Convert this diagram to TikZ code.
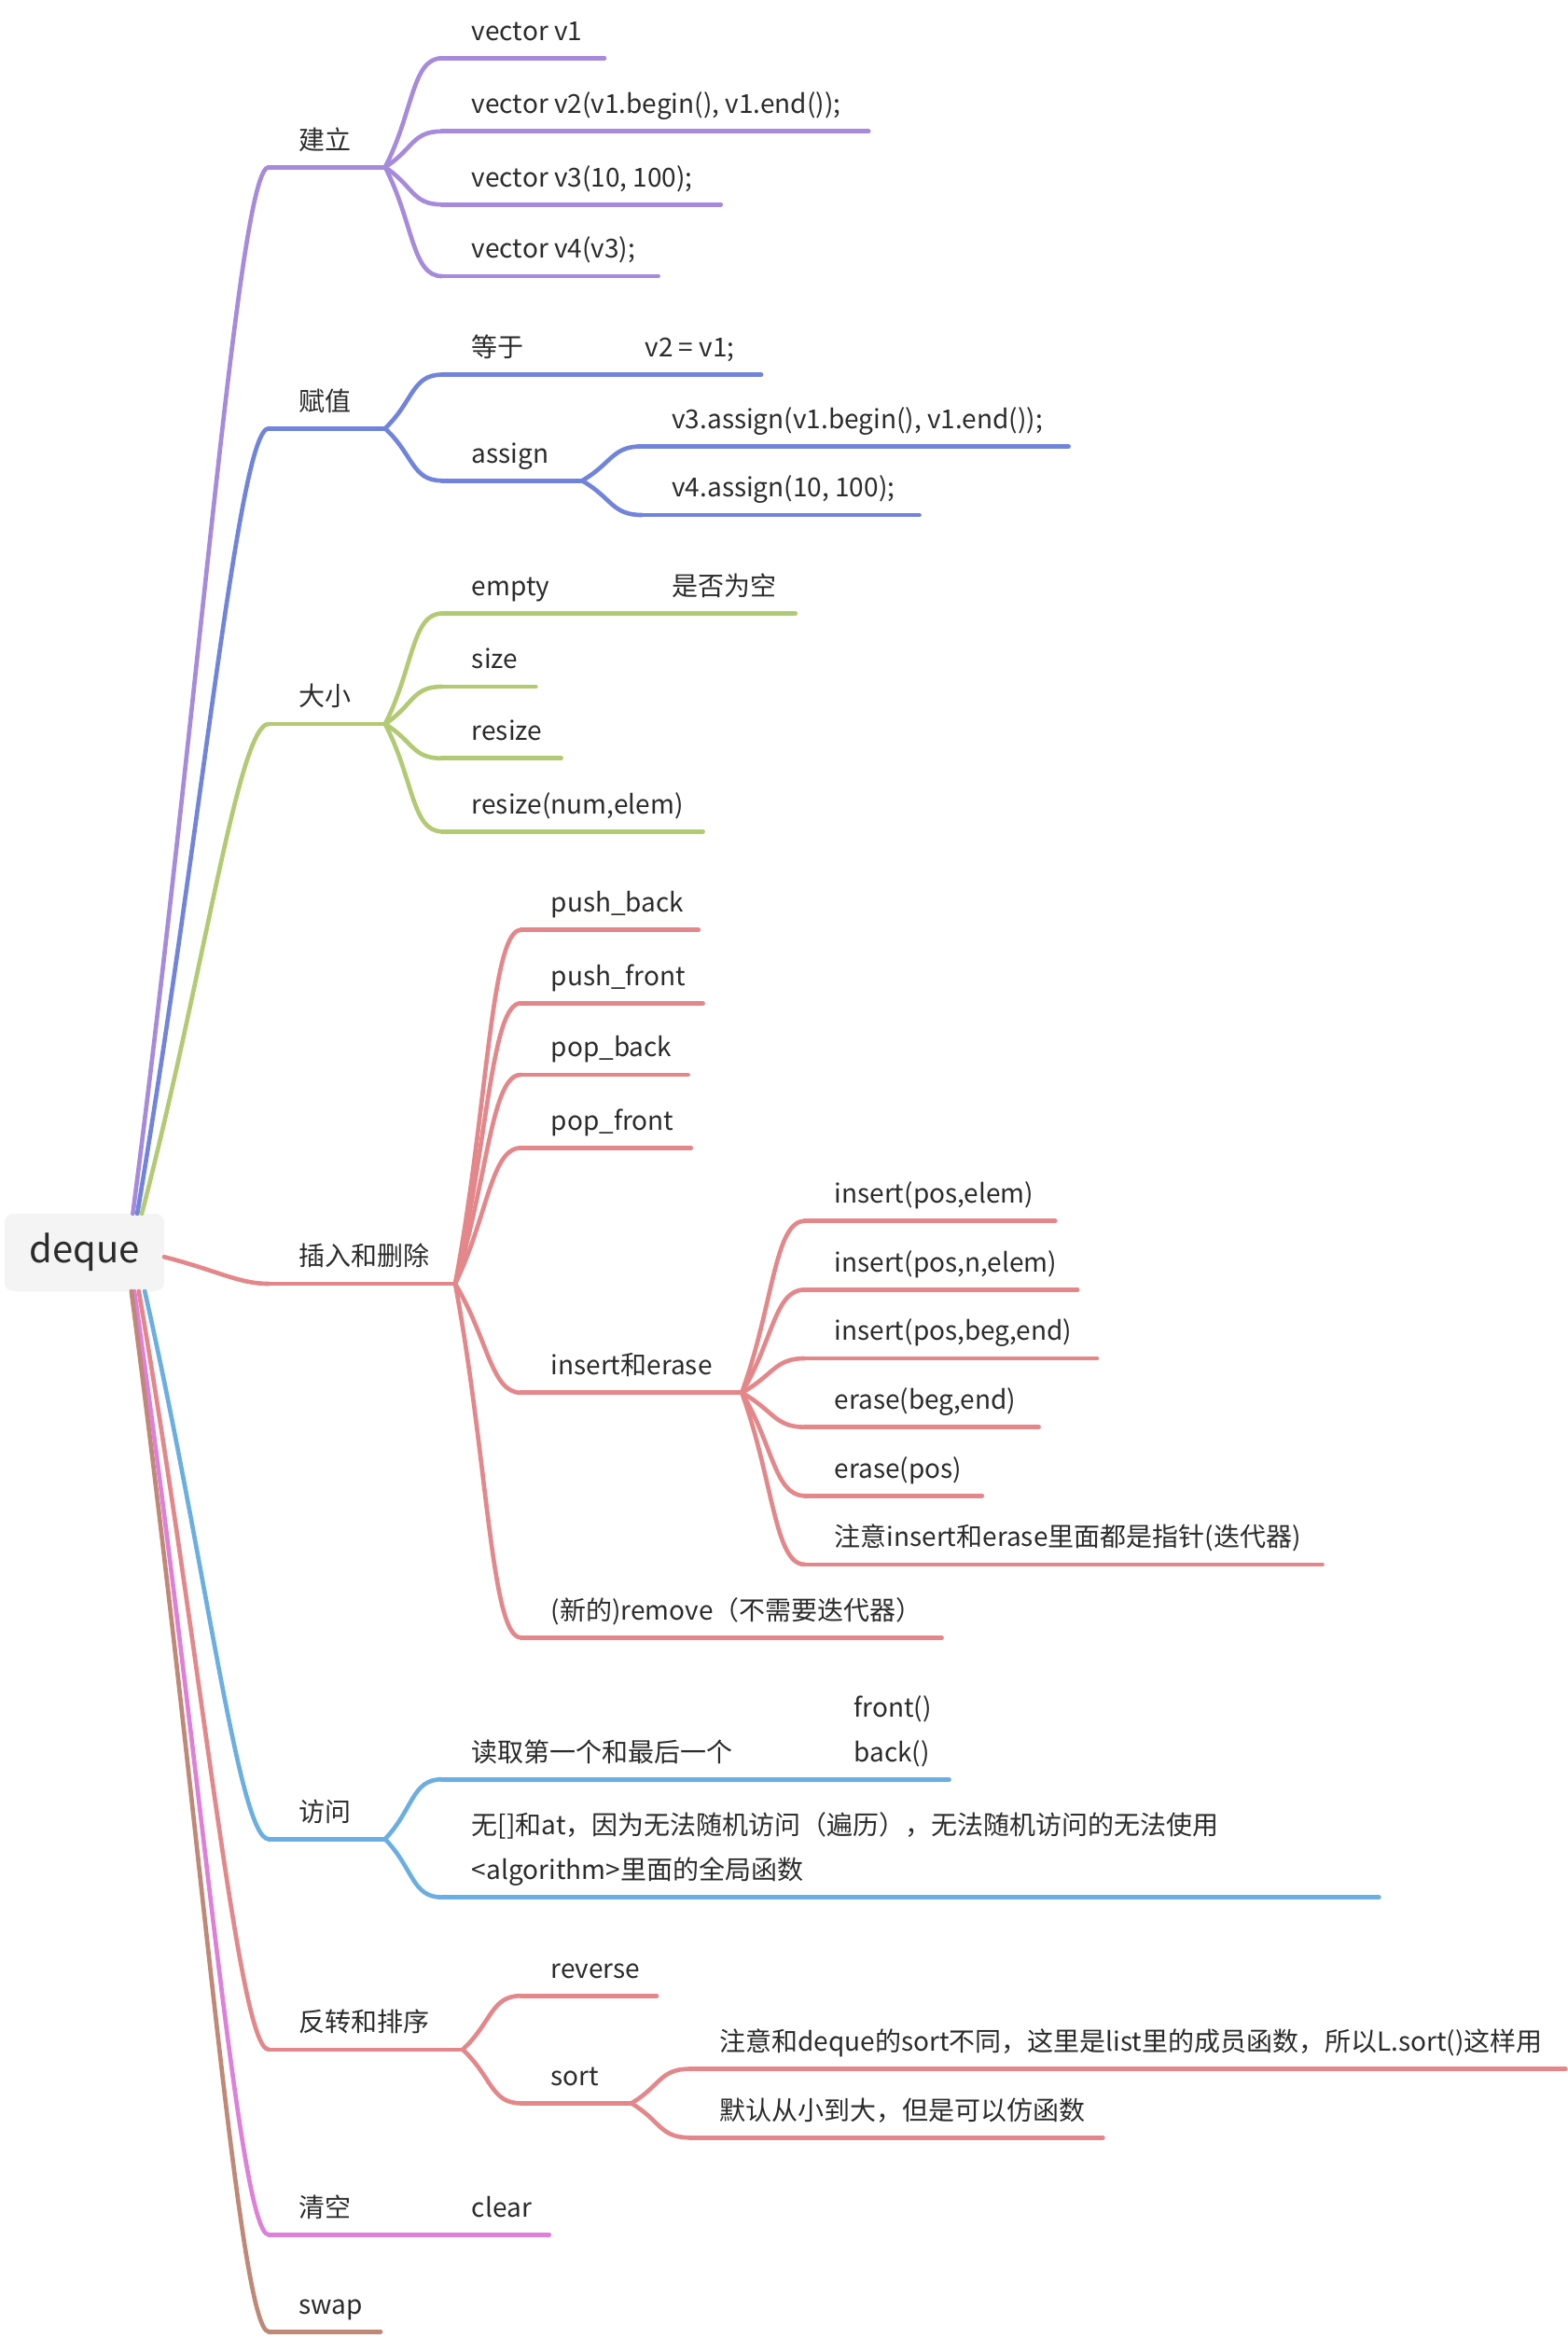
\documentclass[tikz,border=0pt]{standalone}
\usepackage{fontspec}
\setmainfont{Noto Sans CJK SC}
\usetikzlibrary{calc}
\definecolor{cPur}{HTML}{A68ADB}
\definecolor{cBlu}{HTML}{7184DB}
\definecolor{cGrn}{HTML}{B2CA73}
\definecolor{cRed}{HTML}{E3878A}
\definecolor{cSky}{HTML}{6BAFE2}
\definecolor{cPnk}{HTML}{DE80D9}
\definecolor{cBrn}{HTML}{BF8877}
\definecolor{txt}{HTML}{2B2B2B}
\definecolor{rootbg}{HTML}{F4F4F4}
\begin{document}
\begin{tikzpicture}[x=1pt,y=-1pt,
            ln/.style={draw=#1,line width=2.9pt,line cap=round},
            lnk/.style={ln=#1,to path={.. controls ($(\tikztostart)!.5!(\tikztotarget)$) and ($(\tikztotarget)+(-20,0)$) .. (\tikztotarget)}},
            lbl/.style={anchor=base west,inner sep=0pt,text=txt,font=\fontsize{17.5}{30}\selectfont,align=left},
            root/.style={fill=rootbg,rounded corners=6pt,minimum width=107pt,minimum height=52pt,text=txt,font=\fontsize{25}{30}\selectfont},
        ]
    \useasboundingbox (0,0) rectangle (1050,1566.25);
    \node[root] (dq) at (56.5,839) {deque};
    \coordinate (r1) at (89,813);
    \coordinate (r2) at (92,813);
    \coordinate (r3) at (95,813);
    \coordinate (r4) at (110,842);
    \coordinate (r5) at (97,865);
    \coordinate (r6) at (93,865);
    \coordinate (r7) at (90,865);
    \coordinate (r8) at (88,865);

    % 建立
    \coordinate (jl) at (180,112); \coordinate (jl-e) at (258,112);
    \node[lbl] (jl-t) at (200,100) {建立};
    \draw[lnk=cPur] (r1) to (jl);
    \draw[ln=cPur] (jl) -- (jl-e);
    \coordinate (v1) at (296,39); \coordinate (v1-e) at (405,39);
    \node[lbl] (v1-t) at (316,27) {vector v1};
    \coordinate (v2) at (296,88); \coordinate (v2-e) at (582,88);
    \node[lbl] (v2-t) at (316,76) {vector v2(v1.begin(), v1.end());};
    \coordinate (v3) at (296,137); \coordinate (v3-e) at (483,137);
    \node[lbl] (v3-t) at (316,125) {vector v3(10, 100);};
    \coordinate (v4) at (296,185); \coordinate (v4-e) at (441,185);
    \node[lbl] (v4-t) at (316,173) {vector v4(v3);};
    \draw[lnk=cPur] (jl-e) to (v1); \draw[ln=cPur] (v1) -- (v1-e);
    \draw[lnk=cPur] (jl-e) to (v2); \draw[ln=cPur] (v2) -- (v2-e);
    \draw[lnk=cPur] (jl-e) to (v3); \draw[ln=cPur] (v3) -- (v3-e);
    \draw[lnk=cPur] (jl-e) to (v4); \draw[ln=cPur] (v4) -- (v4-e);

    % 赋值
    \coordinate (fz) at (180,287); \coordinate (fz-e) at (258,287);
    \node[lbl] (fz-t) at (200,275) {赋值};
    \draw[lnk=cBlu] (r2) to (fz);
    \draw[ln=cBlu] (fz) -- (fz-e);
    \coordinate (dy) at (296,251); \coordinate (dy-e) at (412,251);
    \node[lbl] (dy-t) at (316,239) {等于};
    \coordinate (eq-e) at (510,251);
    \node[lbl] (eq-t) at (432,239) {v2 = v1;};
    \coordinate (as) at (296,322); \coordinate (as-e) at (390,322);
    \node[lbl] (as-t) at (316,310) {assign};
    \draw[lnk=cBlu] (fz-e) to (dy); \draw[ln=cBlu] (dy) -- (dy-e) -- (eq-e);
    \draw[lnk=cBlu] (fz-e) to (as); \draw[ln=cBlu] (as) -- (as-e);
    \coordinate (a3) at (430,299); \coordinate (a3-e) at (716,299);
    \node[lbl] (a3-t) at (450,287) {v3.assign(v1.begin(), v1.end());};
    \coordinate (a4) at (430,345); \coordinate (a4-e) at (616,345);
    \node[lbl] (a4-t) at (450,333) {v4.assign(10, 100);};
    \draw[lnk=cBlu] (as-e) to (a3); \draw[ln=cBlu] (a3) -- (a3-e);
    \draw[lnk=cBlu] (as-e) to (a4); \draw[ln=cBlu] (a4) -- (a4-e);

    % 大小
    \coordinate (dx) at (180,485); \coordinate (dx-e) at (258,485);
    \node[lbl] (dx-t) at (200,473) {大小};
    \draw[lnk=cGrn] (r3) to (dx);
    \draw[ln=cGrn] (dx) -- (dx-e);
    \coordinate (em) at (296,411); \coordinate (em-e) at (430,411);
    \node[lbl] (em-t) at (316,399) {empty};
    \coordinate (nl-e) at (533,411);
    \node[lbl] (nl-t) at (450,399) {是否为空};
    \coordinate (sz) at (296,460); \coordinate (sz-e) at (359,460);
    \node[lbl] (sz-t) at (316,448) {size};
    \coordinate (rs) at (296,508); \coordinate (rs-e) at (376,508);
    \node[lbl] (rs-t) at (316,496) {resize};
    \coordinate (rn) at (296,557); \coordinate (rn-e) at (471,557);
    \node[lbl] (rn-t) at (316,545) {resize(num,elem)};
    \draw[lnk=cGrn] (dx-e) to (em); \draw[ln=cGrn] (em) -- (em-e) -- (nl-e);
    \draw[lnk=cGrn] (dx-e) to (sz); \draw[ln=cGrn] (sz) -- (sz-e);
    \draw[lnk=cGrn] (dx-e) to (rs); \draw[ln=cGrn] (rs) -- (rs-e);
    \draw[lnk=cGrn] (dx-e) to (rn); \draw[ln=cGrn] (rn) -- (rn-e);

    % 插入和删除
    \coordinate (cr) at (180,860); \coordinate (cr-e) at (305,860);
    \node[lbl] (cr-t) at (200,848) {插入和删除};
    \draw[lnk=cRed] (r4) to (cr);
    \draw[ln=cRed] (cr) -- (cr-e);
    \coordinate (pb) at (349,623); \coordinate (pb-e) at (468,623);
    \node[lbl] (pb-t) at (369,611) {push\_back};
    \coordinate (pf) at (349,672); \coordinate (pf-e) at (471,672);
    \node[lbl] (pf-t) at (369,660) {push\_front};
    \coordinate (ob) at (349,720); \coordinate (ob-e) at (461,720);
    \node[lbl] (ob-t) at (369,708) {pop\_back};
    \coordinate (of) at (349,769); \coordinate (of-e) at (463,769);
    \node[lbl] (of-t) at (369,757) {pop\_front};
    \coordinate (ie) at (349,933); \coordinate (ie-e) at (497,933);
    \node[lbl] (ie-t) at (369,921) {insert和erase};
    \coordinate (rm) at (349,1097); \coordinate (rm-e) at (631,1097);
    \node[lbl] (rm-t) at (369,1085) {(新的)remove（不需要迭代器）};
    \draw[lnk=cRed] (cr-e) to (pb); \draw[ln=cRed] (pb) -- (pb-e);
    \draw[lnk=cRed] (cr-e) to (pf); \draw[ln=cRed] (pf) -- (pf-e);
    \draw[lnk=cRed] (cr-e) to (ob); \draw[ln=cRed] (ob) -- (ob-e);
    \draw[lnk=cRed] (cr-e) to (of); \draw[ln=cRed] (of) -- (of-e);
    \draw[lnk=cRed] (cr-e) to (ie); \draw[ln=cRed] (ie) -- (ie-e);
    \draw[lnk=cRed] (cr-e) to (rm); \draw[ln=cRed] (rm) -- (rm-e);
    \coordinate (i1) at (539,818); \coordinate (i1-e) at (707,818);
    \node[lbl] (i1-t) at (559,806) {insert(pos,elem)};
    \coordinate (i2) at (539,864); \coordinate (i2-e) at (722,864);
    \node[lbl] (i2-t) at (559,852) {insert(pos,n,elem)};
    \coordinate (i3) at (539,910); \coordinate (i3-e) at (735,910);
    \node[lbl] (i3-t) at (559,898) {insert(pos,beg,end)};
    \coordinate (e1) at (539,956); \coordinate (e1-e) at (696,956);
    \node[lbl] (e1-t) at (559,944) {erase(beg,end)};
    \coordinate (e2) at (539,1002); \coordinate (e2-e) at (658,1002);
    \node[lbl] (e2-t) at (559,990) {erase(pos)};
    \coordinate (nt) at (539,1048); \coordinate (nt-e) at (886,1048);
    \node[lbl] (nt-t) at (559,1036) {注意insert和erase里面都是指针(迭代器)};
    \draw[lnk=cRed] (ie-e) to (i1); \draw[ln=cRed] (i1) -- (i1-e);
    \draw[lnk=cRed] (ie-e) to (i2); \draw[ln=cRed] (i2) -- (i2-e);
    \draw[lnk=cRed] (ie-e) to (i3); \draw[ln=cRed] (i3) -- (i3-e);
    \draw[lnk=cRed] (ie-e) to (e1); \draw[ln=cRed] (e1) -- (e1-e);
    \draw[lnk=cRed] (ie-e) to (e2); \draw[ln=cRed] (e2) -- (e2-e);
    \draw[lnk=cRed] (ie-e) to (nt); \draw[ln=cRed] (nt) -- (nt-e);

    % 访问
    \coordinate (fw) at (180,1232); \coordinate (fw-e) at (258,1232);
    \node[lbl] (fw-t) at (200,1220) {访问};
    \draw[lnk=cSky] (r5) to (fw);
    \draw[ln=cSky] (fw) -- (fw-e);
    \coordinate (rd) at (296,1192); \coordinate (rd-e) at (552,1192);
    \node[lbl] (rd-t) at (316,1180) {读取第一个和最后一个};
    \coordinate (fb-e) at (636,1192);
    \node[lbl] (fb-t) at (572,1180) {front()\\back()};
    \coordinate (na) at (296,1271); \coordinate (na-e) at (924,1271);
    \node[lbl] (na-t) at (316,1259) {无[]和at，因为无法随机访问（遍历），无法随机访问的无法使用\\<algorithm>里面的全局函数};
    \draw[lnk=cSky] (fw-e) to (rd); \draw[ln=cSky] (rd) -- (rd-e) -- (fb-e);
    \draw[lnk=cSky] (fw-e) to (na); \draw[ln=cSky] (na) -- (na-e);

    % 反转和排序
    \coordinate (fp) at (180,1373); \coordinate (fp-e) at (310,1373);
    \node[lbl] (fp-t) at (200,1361) {反转和排序};
    \draw[lnk=cRed] (r6) to (fp);
    \draw[ln=cRed] (fp) -- (fp-e);
    \coordinate (rv) at (349,1337); \coordinate (rv-e) at (440,1337);
    \node[lbl] (rv-t) at (369,1325) {reverse};
    \coordinate (so) at (349,1409); \coordinate (so-e) at (423,1409);
    \node[lbl] (so-t) at (369,1397) {sort};
    \draw[lnk=cRed] (fp-e) to (rv); \draw[ln=cRed] (rv) -- (rv-e);
    \draw[lnk=cRed] (fp-e) to (so); \draw[ln=cRed] (so) -- (so-e);
    \coordinate (s1) at (462,1386); \coordinate (s1-e) at (1049,1386);
    \node[lbl] (s1-t) at (482,1374) {注意和deque的sort不同，这里是list里的成员函数，所以L.sort()这样用};
    \coordinate (s2) at (462,1432); \coordinate (s2-e) at (739,1432);
    \node[lbl] (s2-t) at (482,1420) {默认从小到大，但是可以仿函数};
    \draw[lnk=cRed] (so-e) to (s1); \draw[ln=cRed] (s1) -- (s1-e);
    \draw[lnk=cRed] (so-e) to (s2); \draw[ln=cRed] (s2) -- (s2-e);

    % 清空
    \coordinate (qk) at (180,1497); \coordinate (qk-e) at (296,1497);
    \node[lbl] (qk-t) at (200,1485) {清空};
    \coordinate (cl-e) at (368,1497);
    \node[lbl] (cl-t) at (316,1485) {clear};
    \draw[lnk=cPnk] (r7) to (qk);
    \draw[ln=cPnk] (qk) -- (qk-e) -- (cl-e);

    % swap
    \coordinate (sw) at (180,1562); \coordinate (sw-e) at (255,1562);
    \node[lbl] (sw-t) at (200,1550) {swap};
    \draw[lnk=cBrn] (r8) to (sw);
    \draw[ln=cBrn] (sw) -- (sw-e);
\end{tikzpicture}
\end{document}
